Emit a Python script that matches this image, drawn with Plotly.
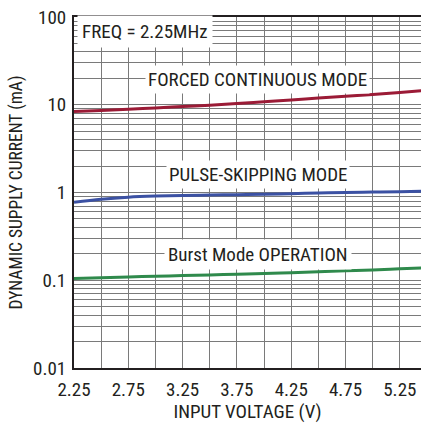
import plotly.graph_objects as go

voltage = [2.25, 2.5, 2.75, 3.0, 3.25, 3.5, 3.75, 4.0, 4.25, 4.5, 4.75, 5.0, 5.25, 5.5]
forced_continuous = [8.35, 8.6, 8.9, 9.2, 9.55, 9.9, 10.3, 10.8, 11.3, 11.9, 12.5, 13.1, 13.8, 14.6]
pulse_skipping = [0.775, 0.84, 0.885, 0.91, 0.925, 0.935, 0.945, 0.955, 0.97, 0.985, 1.0, 1.01, 1.02, 1.035]
burst_mode = [0.105, 0.107, 0.109, 0.111, 0.113, 0.115, 0.117, 0.119, 0.122, 0.125, 0.128, 0.131, 0.135, 0.139]

y_tick_vals = [0.01, 0.1, 1, 10, 100]
y_tick_text = ["0.01", "0.1", "1", "10", "100"]
x_tick_vals = [2.25, 2.75, 3.25, 3.75, 4.25, 4.75, 5.25]
x_tick_text = ["2.25", "2.75", "3.25", "3.75", "4.25", "4.75", "5.25"]

FONT = "Liberation Sans Narrow, Arial Narrow, Roboto Condensed, Liberation Sans, Arial, sans-serif"
TXT = "#231f20"
GRID = "#7a7a7a"

fig = go.Figure()
for vals, color in [(forced_continuous, "#9b1b36"), (pulse_skipping, "#3b51a3"), (burst_mode, "#2f8a4c")]:
    fig.add_trace(go.Scatter(x=voltage, y=vals, mode="lines",
                             line=dict(color=color, width=3, shape="spline"),
                             showlegend=False, hoverinfo="skip"))

labels = [
    ("FREQ = 2.25MHz", 2.905, 1.835, 4),
    ("FORCED CONTINUOUS MODE", 3.935, 1.293, 2),
    ("PULSE-SKIPPING MODE", 3.94, 0.2, 2),
    ("Burst Mode OPERATION", 3.94, -0.712, 3),
]
for text, x, ylog, pad in labels:
    fig.add_annotation(x=x, y=ylog, xref="x", yref="y", text=text, showarrow=False,
                       font=dict(family=FONT, size=19, color=TXT),
                       bgcolor="white", borderpad=pad)

fig.update_layout(
    width=421, height=423,
    margin=dict(l=74, r=0, t=17, b=55),
    paper_bgcolor="white", plot_bgcolor="white",
    font=dict(family=FONT, size=19, color=TXT),
    xaxis=dict(range=[2.25, 5.445], tickvals=x_tick_vals, ticktext=x_tick_text,
               showgrid=True, gridcolor=GRID, gridwidth=1,
               minor=dict(dtick=0.25, tick0=2.25, showgrid=True, gridcolor=GRID, gridwidth=1),
               showline=True, linecolor="#231f20", linewidth=2, mirror=True,
               ticks="outside", ticklen=3, tickcolor="rgba(0,0,0,0)",
               zeroline=False, ticklabeloverflow="allow",
               tickfont=dict(family=FONT, size=19, color=TXT),
               title=dict(text="INPUT VOLTAGE (V)", font=dict(family=FONT, size=19, color=TXT), standoff=10)),
    yaxis=dict(type="log", range=[-2, 2], tickvals=y_tick_vals, ticktext=y_tick_text,
               showgrid=True, gridcolor=GRID, gridwidth=1,
               minor=dict(dtick="D1", showgrid=True, gridcolor=GRID, gridwidth=1),
               showline=True, linecolor="#231f20", linewidth=2, mirror=False,
               ticks="outside", ticklen=2, tickcolor="rgba(0,0,0,0)",
               zeroline=False, ticklabeloverflow="allow",
               tickfont=dict(family=FONT, size=19, color=TXT),
               title=dict(text="DYNAMIC SUPPLY CURRENT (mA)", font=dict(family=FONT, size=17.5, color=TXT), standoff=6)),
)

fig.write_html("out.html", config={"displayModeBar": False},
               post_script="document.body.style.margin='0';")
